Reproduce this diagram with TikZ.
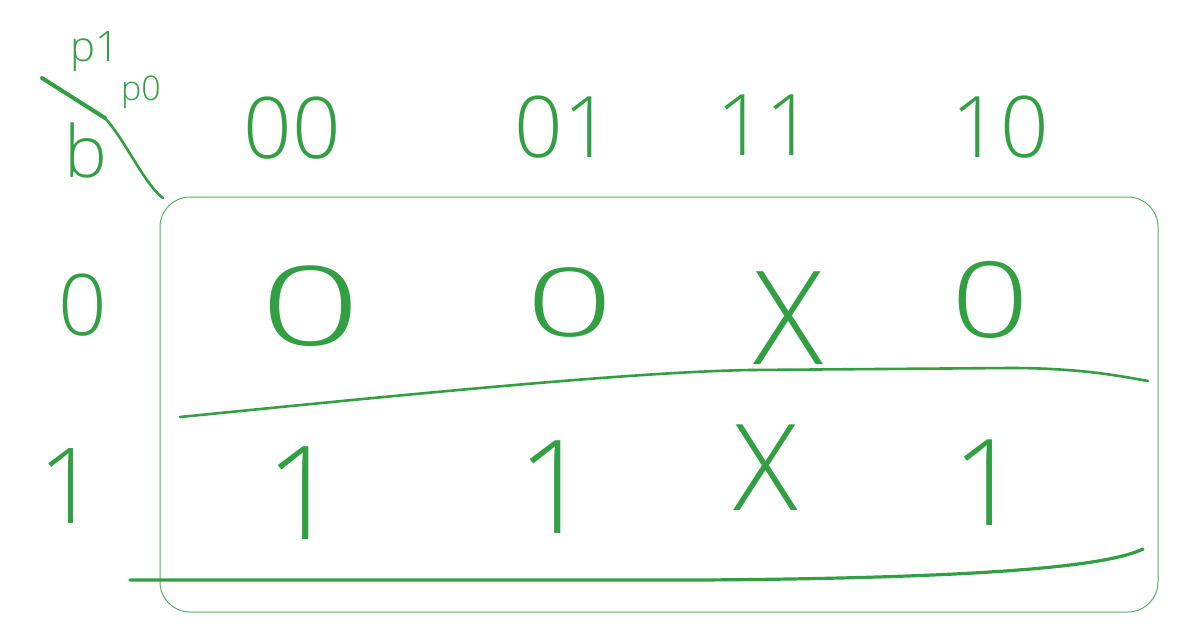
\documentclass[tikz,border=0pt]{standalone}
\usepackage{fontspec}
\setsansfont{Open Sans Light}
\definecolor{penGreen}{RGB}{50,160,66}
\definecolor{boxGreen}{RGB}{85,175,100}
\tikzset{
  bit/.style={text=penGreen, inner sep=0pt, font=\sffamily\fontsize{#1}{#1}\selectfont},
  bit/.default=85,
  pen/.style={draw=penGreen, line width=2.6pt, line cap=round, line join=round}
}
\begin{document}
\begin{tikzpicture}[x=1pt,y=-1pt]
      \useasboundingbox (0,0) rectangle (1192,641);
      \draw[boxGreen, line width=1pt, rounded corners=30pt] (160,197) rectangle (1158,612);

      % variable names
      \node[bit=42] (p1) at (95,52) {p1};
      \node[bit=34] (p0) at (141,92) {p0};
      \node[bit=72] (b) at (86,150) {b};
      \draw[pen, line width=4pt] (42,78) -- (105,118);
      \draw[pen] (105,118) .. controls (125,140) and (145,185) .. (163,198);

      % column headers
      \node[bit] (h00) at (292,128) {00};
      \node[bit] (h01) at (563,127) {01};
      \node[bit] (h11) at (765,125) {11};
      \node[bit] (h10) at (1000,127) {10};

      % row headers
      \node[bit] (r0) at (83,305) {0};
      \node[bit=105] (r1) at (68,486) {1};

      % cells
      \node[bit=110, xscale=1.6] (c00) at (311,306) {0};
      \node[bit=95, xscale=1.6] (c01) at (570,303) {0};
      \node[bit=130] (c11) at (788,318) {X};
      \node[bit=105, xscale=1.3] (c10) at (990,300) {0};
      \node[bit=130] (d00) at (303,493) {1};
      \node[bit=130] (d01) at (555,487) {1};
      \node[bit=120] (d11) at (766,468) {X};
      \node[bit=120] (d10) at (987,483) {1};

      % group lines
      \draw[pen] (180,417) .. controls (450,390) and (640,372) .. (750,370)
        -- (1010,368) .. controls (1080,368) and (1120,376) .. (1148,381);
      \draw[pen, line width=3.2pt] (130,580) -- (700,580)
        .. controls (1000,578) and (1110,565) .. (1143,549);
\end{tikzpicture}
\end{document}
